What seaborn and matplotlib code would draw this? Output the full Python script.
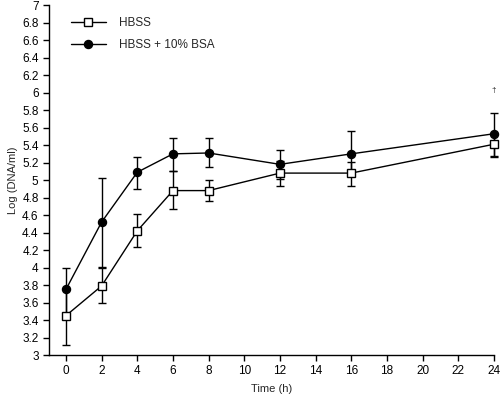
import matplotlib
matplotlib.use("Agg")
import matplotlib.pyplot as plt
import seaborn as sns
import numpy as np
import pandas as pd

time_h = [0, 2, 4, 6, 8, 12, 16, 24]
hbss_mean = [3.45, 3.79, 4.42, 4.88, 4.88, 5.08, 5.08, 5.41]
hbss_low = [3.11, 3.59, 4.24, 4.67, 4.76, 4.93, 4.93, 5.27]
hbss_high = [3.76, 4.00, 4.61, 5.10, 5.00, 5.22, 5.21, 5.54]
bsa_mean = [3.75, 4.52, 5.09, 5.30, 5.31, 5.18, 5.30, 5.53]
bsa_low = [3.46, 4.01, 4.90, 5.10, 5.15, 5.01, 5.05, 5.26]
bsa_high = [4.00, 5.02, 5.26, 5.48, 5.48, 5.34, 5.56, 5.77]
x_ticks = list(range(0, 25, 2))
y_ticks = [round(3 + 0.2 * i, 1) for i in range(21)]

sns.set_style("ticks")
plt.rcParams['font.family'] = ['Liberation Sans', 'DejaVu Sans']

fig = plt.figure(figsize=(5, 3.98), dpi=100)
ax = fig.add_axes([0.098, 0.108, 0.89, 0.879])

df = pd.DataFrame({
    "t": time_h * 2,
    "v": hbss_mean + bsa_mean,
    "g": ["HBSS"] * len(time_h) + ["HBSS + 10% BSA"] * len(time_h),
})

for mean, lo, hi in [(hbss_mean, hbss_low, hbss_high), (bsa_mean, bsa_low, bsa_high)]:
    m = np.array(mean)
    err = np.vstack([m - np.array(lo), np.array(hi) - m])
    ax.errorbar(time_h, m, yerr=err, fmt="none", ecolor="black", elinewidth=1.0,
                capsize=3, capthick=1.0, zorder=2, clip_on=False)

sns.lineplot(data=df, x="t", y="v", hue="g", style="g",
             palette={"HBSS": "black", "HBSS + 10% BSA": "black"},
             markers={"HBSS": "s", "HBSS + 10% BSA": "o"},
             dashes=False, ax=ax, linewidth=1.0, markersize=5.8, zorder=3,
             clip_on=False, markeredgecolor="black", markeredgewidth=1.0)

for line in ax.lines:
    if line.get_marker() == "s":
        line.set_markerfacecolor("white")
        line.set_zorder(4)
    elif line.get_marker() == "o":
        line.set_markerfacecolor("black")
        line.set_zorder(4)

leg = ax.legend(frameon=False, loc="upper left", bbox_to_anchor=(0.025, 0.997),
                fontsize=8.5, handlelength=3, handletextpad=1.1, labelspacing=0.9)
for h in leg.legend_handles:
    if h.get_marker() == "s":
        h.set_markerfacecolor("white")
    h.set_markeredgecolor("black")
    h.set_markersize(5.8)

ax.text(24, 6.02, "†", ha="center", va="center", fontsize=6)

ax.set_xlim(-0.95, 24)
ax.set_ylim(3, 7)
ax.set_xticks(x_ticks)
ax.set_yticks(y_ticks)
ax.set_yticklabels([("%g" % v) for v in y_ticks])
ax.tick_params(direction="out", length=4, width=1, labelsize=8.5, colors="black")
ax.set_xlabel("Time (h)", fontsize=8, labelpad=5)
ax.set_ylabel("Log (DNA/ml)", fontsize=8, labelpad=3)
sns.despine(ax=ax)
for s in ["left", "bottom"]:
    ax.spines[s].set_linewidth(1.0)
    ax.spines[s].set_color("black")

fig.savefig("out.png", dpi=100)
